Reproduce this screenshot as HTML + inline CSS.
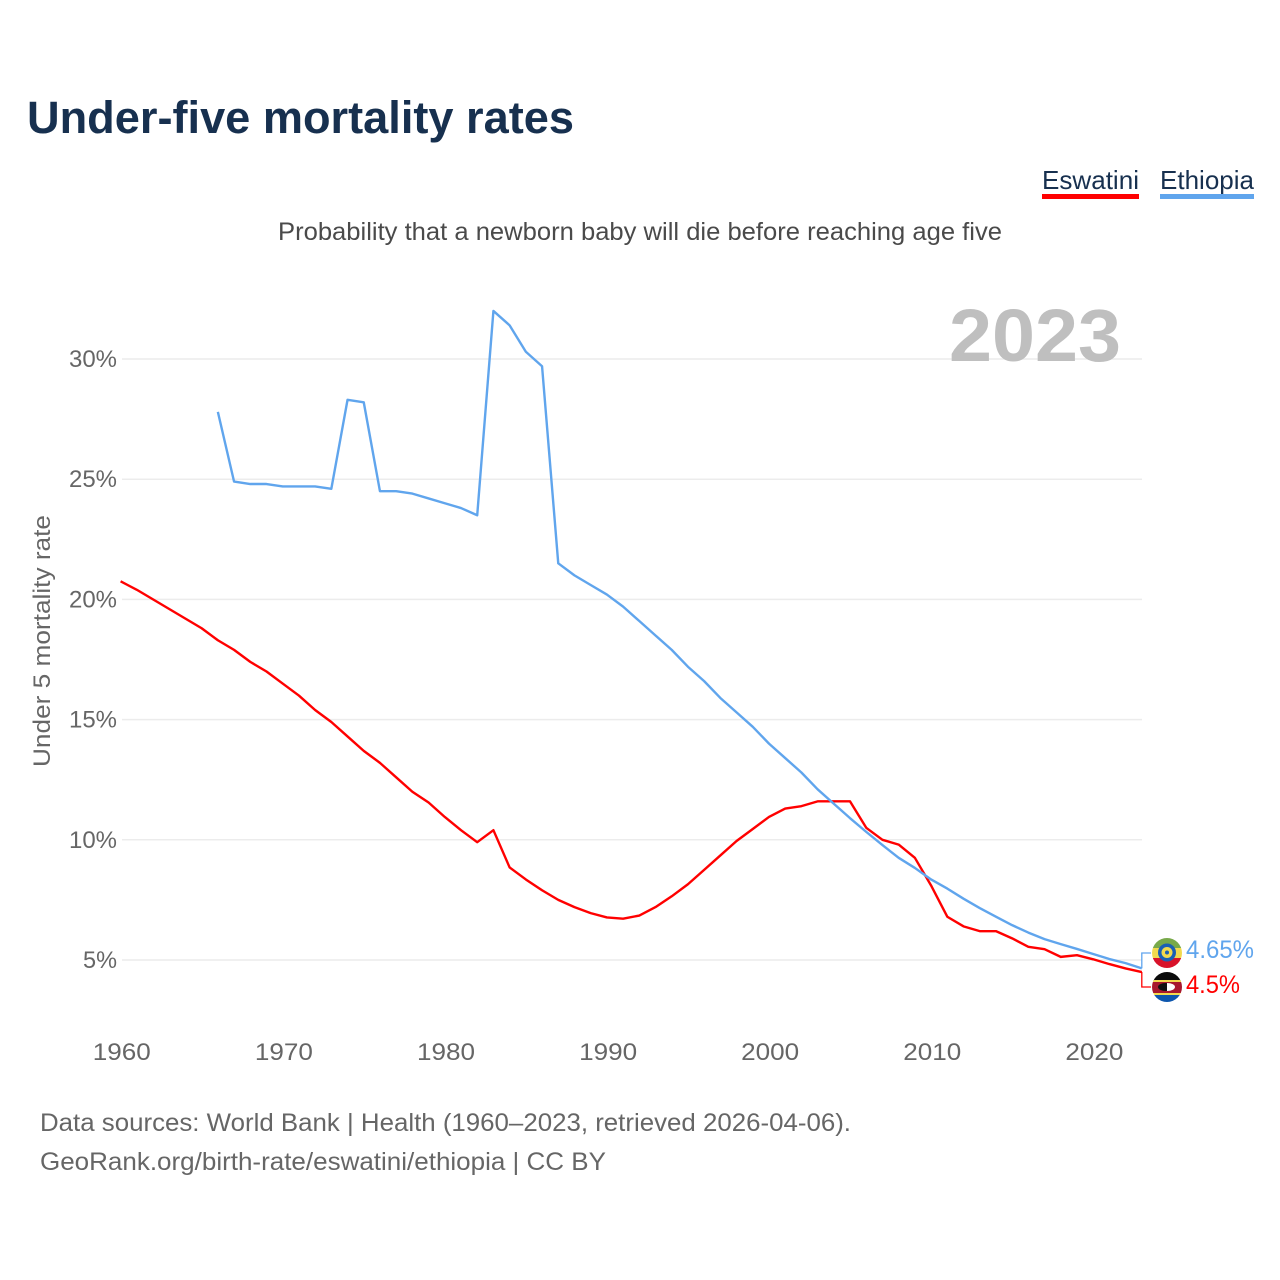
<!DOCTYPE html>
<html lang="en">
<head>
<meta charset="utf-8">
<title>Under-five mortality rates</title>
<style>
html,body{margin:0;padding:0;background:#fff;width:1280px;height:1280px;overflow:hidden}
svg{display:block}
text{font-family:"Liberation Sans",sans-serif}
</style>
</head>
<body>
<svg id="chart" xmlns="http://www.w3.org/2000/svg" width="1280" height="1280" viewBox="0 0 1280 1280">
  <rect width="1280" height="1280" fill="#fff"/>
  <text x="27" y="133" font-size="45" font-weight="700" fill="#17304f" textLength="547" lengthAdjust="spacingAndGlyphs">Under-five mortality rates</text>
  <g>
    <text x="1042" y="189" font-size="26" fill="#17304f" textLength="97" lengthAdjust="spacingAndGlyphs">Eswatini</text>
    <rect x="1042" y="194" width="97" height="5" fill="#ff0000"/>
  </g>
  <g>
    <text x="1160" y="189" font-size="26" fill="#17304f" textLength="94" lengthAdjust="spacingAndGlyphs">Ethiopia</text>
    <rect x="1160" y="194" width="94" height="5" fill="#60a5ed"/>
  </g>
  <text x="278" y="240" font-size="25" fill="#4a4a4a" textLength="724" lengthAdjust="spacingAndGlyphs">Probability that a newborn baby will die before reaching age five</text>
  <g id="grid"></g>
  <text x="949" y="361" font-size="74" font-weight="700" fill="#bfbfbf" textLength="172" lengthAdjust="spacingAndGlyphs">2023</text>
  <g id="yticks"></g>
  <g id="xticks"></g>
  <text transform="translate(50,641) rotate(-90)" text-anchor="middle" font-size="24" fill="#666" textLength="252" lengthAdjust="spacingAndGlyphs">Under 5 mortality rate</text>
  <g id="series"></g>
  <g id="flag-ethiopia">
    <clipPath id="clip-et"><circle cx="1167" cy="953" r="15"/></clipPath>
    <g clip-path="url(#clip-et)">
      <rect x="1152" y="938" width="30" height="10" fill="#78a94a"/>
      <rect x="1152" y="948" width="30" height="10" fill="#f2d94e"/>
      <rect x="1152" y="958" width="30" height="10" fill="#d8122a"/>
      <circle cx="1167" cy="952.5" r="9" fill="#1b5fb4"/>
      <circle cx="1167" cy="952.5" r="5.5" fill="#f2d94e"/>
      <circle cx="1167" cy="952.5" r="2" fill="#1b5fb4"/>
    </g>
  </g>
  <g id="flag-eswatini">
    <clipPath id="clip-sz"><circle cx="1167" cy="987" r="15"/></clipPath>
    <g clip-path="url(#clip-sz)">
      <rect x="1152" y="972" width="30" height="9" fill="#0b0b0b"/>
      <rect x="1152" y="980" width="30" height="2" fill="#f2d94e"/>
      <rect x="1152" y="982" width="30" height="11" fill="#a8182e"/>
      <rect x="1152" y="993" width="30" height="2" fill="#f2d94e"/>
      <rect x="1152" y="995" width="30" height="8" fill="#0d56ad"/>
      <ellipse cx="1166" cy="987" rx="8" ry="4" fill="#111"/>
      <path d="M1167 983a8 4 0 0 1 0 8z" fill="#fff"/>
    </g>
  </g>
  <text id="label-ethiopia" x="1186" y="958" font-size="25" fill="#60a5ed" textLength="68" lengthAdjust="spacingAndGlyphs"></text>
  <text id="label-eswatini" x="1186" y="993" font-size="25" fill="#ff0000" textLength="54" lengthAdjust="spacingAndGlyphs"></text>
  <text x="40" y="1131" font-size="25" fill="#666" textLength="811" lengthAdjust="spacingAndGlyphs">Data sources: World Bank | Health (1960–2023, retrieved 2026-04-06).</text>
  <text x="40" y="1170" font-size="25" fill="#666" textLength="566" lengthAdjust="spacingAndGlyphs">GeoRank.org/birth-rate/eswatini/ethiopia | CC BY</text>
</svg>
<script>
const yTickValues = [5, 10, 15, 20, 25, 30];
const xTickValues = [1960, 1970, 1980, 1990, 2000, 2010, 2020];
const eswatiniStartYear = 1960;
const eswatiniValues = [20.75,20.4,20.0,19.6,19.2,18.8,18.3,17.9,17.4,17.0,16.5,16.0,15.4,14.9,14.3,13.7,13.2,12.6,12.0,11.55,10.95,10.4,9.9,10.4,8.85,8.35,7.9,7.5,7.2,6.95,6.77,6.72,6.85,7.2,7.65,8.15,8.75,9.35,9.95,10.45,10.95,11.3,11.4,11.6,11.6,11.6,10.5,10.0,9.8,9.25,8.1,6.8,6.4,6.2,6.2,5.9,5.55,5.45,5.13,5.2,5.03,4.83,4.65,4.5];
const ethiopiaStartYear = 1966;
const ethiopiaValues = [27.8,24.9,24.8,24.8,24.7,24.7,24.7,24.6,28.3,28.2,24.5,24.5,24.4,24.2,24.0,23.8,23.5,32.0,31.4,30.3,29.7,21.5,21.0,20.6,20.2,19.7,19.1,18.5,17.9,17.2,16.6,15.9,15.3,14.7,14.0,13.4,12.8,12.1,11.5,10.9,10.33,9.78,9.25,8.83,8.35,7.97,7.55,7.16,6.8,6.45,6.14,5.87,5.66,5.46,5.25,5.04,4.87,4.65];

const SVGNS = 'http://www.w3.org/2000/svg';
const xScale = function (year) { return 120.6 + (year - 1960) * (1141.8 - 120.6) / 63; };
const yScale = function (value) { return 960 - (value - 5) * (960 - 359) / 25; };

function make(tag, attrs, parent) {
  const el = document.createElementNS(SVGNS, tag);
  Object.keys(attrs).forEach(function (k) { el.setAttribute(k, attrs[k]); });
  parent.appendChild(el);
  return el;
}

const gridGroup = document.getElementById('grid');
const yTickGroup = document.getElementById('yticks');
const xTickGroup = document.getElementById('xticks');
const seriesGroup = document.getElementById('series');

yTickValues.forEach(function (v) {
  const line = make('line', {x1: 122, x2: 1142, y1: yScale(v), y2: yScale(v), stroke: '#ececec', 'stroke-width': 1.5}, gridGroup);
  
  
  const label = v + '%';
  const t = make('text', {x: 117, y: yScale(v) + 8, 'text-anchor': 'end', 'font-size': 24, fill: '#666', textLength: 14 * label.length + 6, lengthAdjust: 'spacingAndGlyphs'}, yTickGroup);
  t.textContent = label;
  
  
});

xTickValues.forEach(function (v) {
  const t = make('text', {x: xScale(v) + 1.2, y: 1060, 'text-anchor': 'middle', 'font-size': 24, fill: '#666', textLength: 58, lengthAdjust: 'spacingAndGlyphs'}, xTickGroup);
  t.textContent = String(v);
  
  
});

function linePoints(values, startYear) {
  return values.map(function (v, i) { return xScale(startYear + i).toFixed(2) + ',' + yScale(v).toFixed(2); }).join(' ');
}

const eswatiniLine = make('polyline', {points: linePoints(eswatiniValues, eswatiniStartYear), fill: 'none', stroke: '#ff0000', 'stroke-width': 2.4, 'stroke-linejoin': 'round'}, seriesGroup);



const ethiopiaLine = make('polyline', {points: linePoints(ethiopiaValues, ethiopiaStartYear), fill: 'none', stroke: '#60a5ed', 'stroke-width': 2.4, 'stroke-linejoin': 'round'}, seriesGroup);



const lastEswatini = eswatiniValues[eswatiniValues.length - 1];
const lastEthiopia = ethiopiaValues[ethiopiaValues.length - 1];
const endX = xScale(2023);

const connectorEthiopia = make('polyline', {points: endX + ',' + yScale(lastEthiopia) + ' ' + endX + ',953 1151,953', fill: 'none', stroke: '#60a5ed', 'stroke-width': 1.3}, seriesGroup);



const connectorEswatini = make('polyline', {points: endX + ',' + yScale(lastEswatini) + ' ' + endX + ',987 1151,987', fill: 'none', stroke: '#ff0000', 'stroke-width': 1.3}, seriesGroup);



document.getElementById('label-ethiopia').textContent = lastEthiopia + '%';
document.getElementById('label-eswatini').textContent = lastEswatini + '%';
</script>
</body>
</html>
